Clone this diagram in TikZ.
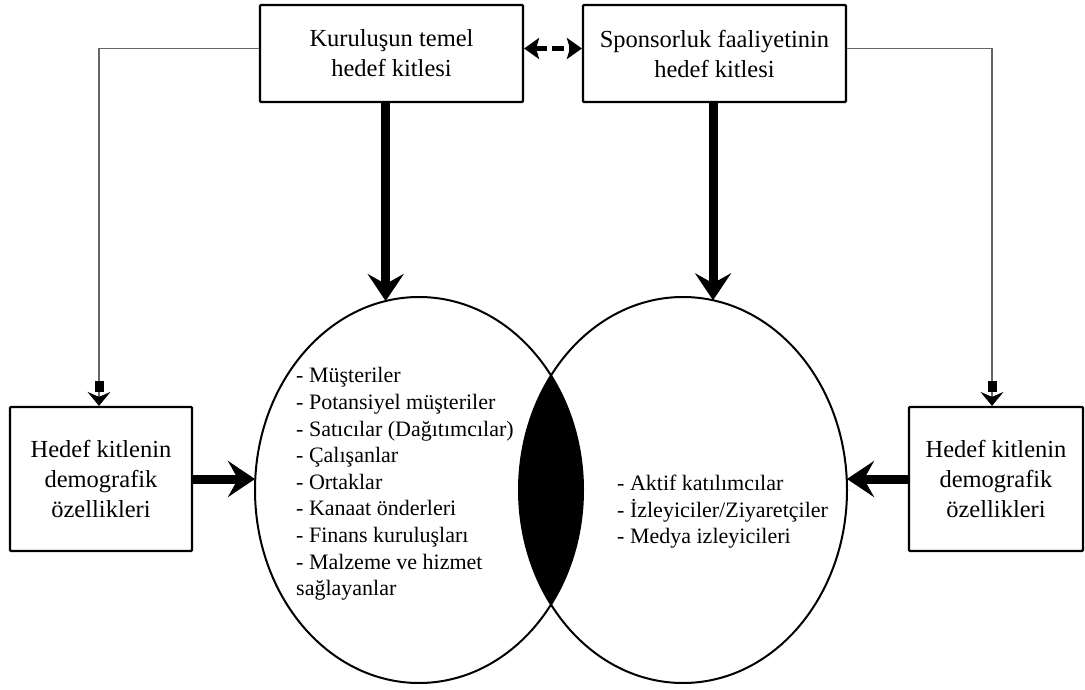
\documentclass[tikz,border=0pt]{standalone}
\usepackage{fontspec}
\setmainfont{Liberation Serif}
\usetikzlibrary{arrows.meta,shapes.geometric}

\begin{document}
\begin{tikzpicture}[x=1pt,y=-1pt,
  box/.style={draw,line width=2.2pt,rounded corners=1pt,align=center,inner sep=0pt,
    font=\fontsize{24.5}{30}\selectfont},
  set/.style={draw,ellipse,line width=2pt,minimum width=328pt,minimum height=386pt,
    inner sep=0pt,outer sep=0pt},
  list/.style={align=left,anchor=west,inner sep=0pt,font=\fontsize{22}{26.6}\selectfont},
  thin link/.style={draw=black!60,line width=1.1pt,
    -{Rectangle[length=11pt,width=9pt,black]Stealth[length=14pt,width=23pt,inset=5pt,black]}},
  big arrow/.style={line width=9pt,-{Stealth[length=27pt,width=36pt,inset=10pt]}}
  ]
  \useasboundingbox (0,0) rectangle (1085,690);
  \node[box,minimum width=263pt,minimum height=97pt] (kurulus) at (391.5,53.5) {Kuruluşun temel\\hedef kitlesi};
  \node[box,minimum width=263pt,minimum height=97pt] (sponsor) at (714.5,53.5) {Sponsorluk faaliyetinin\\hedef kitlesi};
  \node[box,minimum width=182pt,minimum height=144pt] (demsol) at (101,479) {Hedef kitlenin\\demografik\\özellikleri};
  \node[box,minimum width=174pt,minimum height=144pt] (demsag) at (996,479) {Hedef kitlenin\\demografik\\özellikleri};
  \node[set] (sol) at (419,490) {};
  \node[set] (sag) at (683,490) {};
  \begin{scope}
    \clip (sol.center) ellipse [x radius=164pt,y radius=193pt];
    \fill (sag.center) ellipse [x radius=164pt,y radius=193pt];
  \end{scope}
  \node[list] (solliste) at (296,484) {- Müşteriler\\- Potansiyel müşteriler\\- Satıcılar (Dağıtımcılar)\\- Çalışanlar\\- Ortaklar\\- Kanaat önderleri\\- Finans kuruluşları\\- Malzeme ve hizmet\\sağlayanlar};
  \node[list] (sagliste) at (617,512) {- Aktif katılımcılar\\- İzleyiciler/Ziyaretçiler\\- Medya izleyicileri};
  \draw[line width=5pt,dash pattern=on 12pt off 5pt,
    {Stealth[length=15pt,width=21pt,inset=3pt]}-{Stealth[length=15pt,width=21pt,inset=3pt]}]
    ([yshift=5pt]kurulus.east) -- ([yshift=5pt]sponsor.west);
  \draw[thin link] ([yshift=5pt]kurulus.west) -| ([xshift=-2pt]demsol.north);
  \draw[thin link] ([yshift=5pt]sponsor.east) -| ([xshift=-4pt]demsag.north);
  \draw[big arrow] (kurulus.south -| sol.100) -- (sol.100);
  \draw[big arrow] (sponsor.south -| sag.81) -- (sag.81);
  \draw[big arrow] (demsol.east) -- (demsol.east -| sol.west);
  \draw[big arrow] (demsag.west) -- (demsag.west -| sag.east);
\end{tikzpicture}
\end{document}
